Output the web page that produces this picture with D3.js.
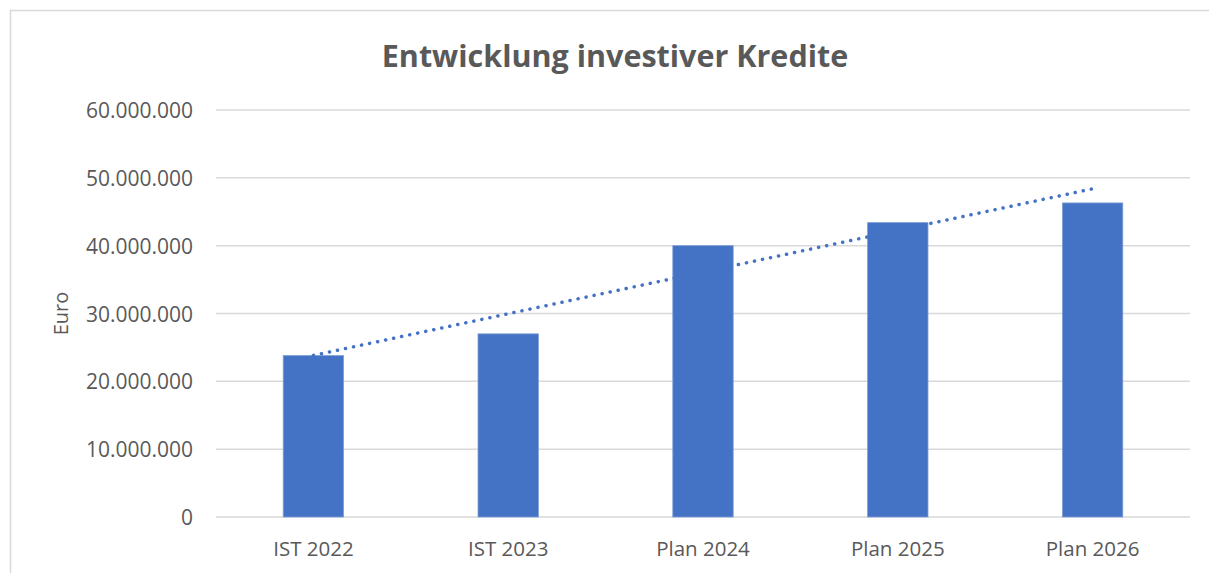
<!DOCTYPE html>
<html>
<head>
<meta charset="utf-8">
<script src="https://cdn.jsdelivr.net/npm/d3@7"></script>
<style>
    body { margin: 0; background: #fff; }
    svg { display: block; font-family: "Open Sans", "Liberation Sans", sans-serif; }
    .grid line { stroke: #d9d9d9; stroke-width: 1.5; }
    .axis text { fill: #595959; font-family: "Open Sans", sans-serif; }
</style>
</head>
<body>
<svg id="chart"></svg>
<script>
// chart data
var categories = ["IST 2022", "IST 2023", "Plan 2024", "Plan 2025", "Plan 2026"];
var values = [23800000, 27000000, 40000000, 43400000, 46300000];
var yTicks = [0, 10000000, 20000000, 30000000, 40000000, 50000000, 60000000];
var title = "Entwicklung investiver Kredite";
var yTitle = "Euro";

var w = 1209, h = 573;
var margin = { top: 110, right: 19, bottom: 56, left: 216 };
var width = w - margin.left - margin.right,
    height = h - margin.top - margin.bottom;

var svg = d3.select("#chart").attr("width", w).attr("height", h);

// outer frame (right and bottom run off the picture)
svg.append("path")
    .attr("d", "M10.5," + h + "V10.5H" + (w + 5))
    .attr("fill", "none")
    .attr("stroke", "#d9d9d9")
    .attr("stroke-width", 1.5);

var x = d3.scaleBand().domain(categories).range([0, width]).paddingInner(0.69).paddingOuter(0.345);
var y = d3.scaleLinear().domain([0, 60000000]).range([height, 0]);

var g = svg.append("g").attr("transform", "translate(" + margin.left + "," + margin.top + ")");

// german thousands separator
var fmt = function(d) { return d3.format(",")(d).replace(/,/g, "."); };

// gridlines
g.append("g")
    .attr("class", "grid")
    .selectAll("line")
    .data(yTicks)
    .enter().append("line")
    .attr("x1", 0)
    .attr("x2", width)
    .attr("y1", function(d) { return y(d); })
    .attr("y2", function(d) { return y(d); });

// y axis labels
var yAxis = d3.axisLeft(y).tickValues(yTicks).tickFormat(fmt).tickSize(0).tickPadding(23);
g.append("g")
    .attr("class", "axis axis--y")
    .call(yAxis)
    .call(function(s) { s.select(".domain").remove(); })
    .selectAll("text")
    .style("font-size", "21px")
    .attr("dy", "0.36em");

// x axis labels
var xAxis = d3.axisBottom(x).tickSize(0).tickPadding(24);
g.append("g")
    .attr("class", "axis axis--x")
    .attr("transform", "translate(0," + height + ")")
    .call(xAxis)
    .call(function(s) { s.select(".domain").remove(); })
    .selectAll("text")
    .style("font-size", "20.5px");

// bars
g.selectAll(".bar")
    .data(values)
    .enter().append("rect")
    .attr("class", "bar")
    .attr("x", function(d, i) { return x(categories[i]); })
    .attr("width", x.bandwidth())
    .attr("y", function(d) { return y(d); })
    .attr("height", function(d) { return height - y(d); })
    .attr("fill", "#4472c4")
    .attr("stroke", "#7f9fd6")
    .attr("stroke-width", 0.8);

// linear trendline (least squares over category index)
var n = values.length,
    mx = d3.mean(values, function(d, i) { return i; }),
    my = d3.mean(values);
var slope = d3.sum(values, function(d, i) { return (i - mx) * (d - my); }) /
            d3.sum(values, function(d, i) { return (i - mx) * (i - mx); });
var trend = [0, n - 1].map(function(i) { return [i, my + slope * (i - mx)]; });

var cx = function(i) { return x(categories[i]) + x.bandwidth() / 2; };
g.append("line")
    .attr("x1", cx(trend[0][0]))
    .attr("y1", y(trend[0][1]))
    .attr("x2", cx(trend[1][0]))
    .attr("y2", y(trend[1][1]))
    .attr("stroke", "#4472c4")
    .attr("stroke-width", 3.5)
    .attr("stroke-linecap", "round")
    .attr("stroke-dasharray", "0.1 8.1");

// title
svg.append("text")
    .attr("x", 615)
    .attr("y", 67)
    .attr("text-anchor", "middle")
    .attr("fill", "#595959")
    .style("font-size", "30.5px")
    .style("font-weight", "bold")
    .text(title);

// y axis title
svg.append("text")
    .attr("transform", "translate(68," + (margin.top + height / 2) + ") rotate(-90)")
    .attr("text-anchor", "middle")
    .attr("fill", "#595959")
    .style("font-size", "20px")
    .text(yTitle);
</script>
</body>
</html>
